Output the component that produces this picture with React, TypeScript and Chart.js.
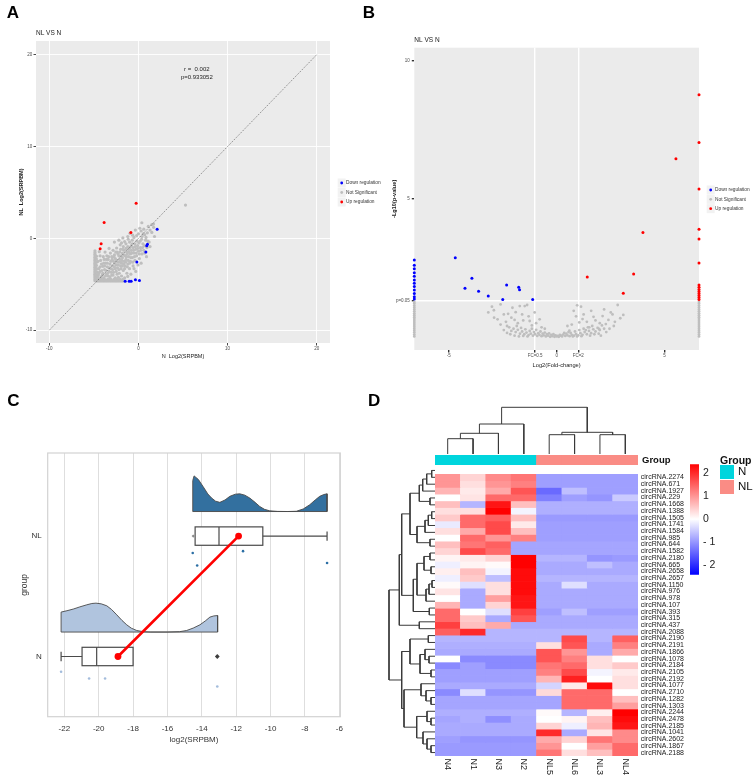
import React, { useEffect, useRef } from 'react';
import { Chart, registerables } from 'chart.js';

Chart.register(...registerables);
const FONT = "'Liberation Sans', Arial, Helvetica, sans-serif";
Chart.defaults.font.family = FONT;

const toXY = (arr: number[][]) => arr.map(([x, y]) => ({ x, y }));

// ================= Panel A : scatter NL vs N =================
const aTicks = [-10, 0, 10, 20];
const aDiagonal = [[-10, -10], [20, 20]];
const aCorrText = ['r =  0.002', 'p=0.933052'];
const aCorrX = 6.55;
const aCorrY = [18.46, 17.56];
const aDown = [[2.1, 1.0], [1.01, -0.65], [0.93, -0.8], [0.83, -1.49], [-0.18, -2.58], [-1.49, -4.66], [-1.04, -4.66], [-0.82, -4.66], [-0.34, -4.51], [0.11, -4.58]];
const aUp = [[-0.26, 3.82], [-3.85, 1.74], [-0.85, 0.65], [-4.19, -0.59], [-4.3, -1.13]];
const aNotSig = [
  [-4.88, -4.62], [-4.88, -4.47], [-4.88, -4.33], [-4.88, -4.18], [-4.88, -4.04], [-4.88, -3.9], [-4.88, -3.75], [-4.88, -3.6], [-4.88, -3.44], [-4.88, -3.3], [-4.88, -3.15], [-4.88, -3.0], [-4.88, -2.86], [-4.88, -2.7], [-4.88, -2.55], [-4.88, -2.38], [-4.88, -2.22], [-4.88, -2.06], [-4.88, -1.9], [-4.88, -1.72], [-4.88, -1.55], [-4.88, -1.35],
  [-4.72, -4.55], [-4.72, -4.25], [-4.7, -3.95], [-4.72, -3.62], [-4.7, -3.3], [-4.72, -2.95], [-4.7, -2.6], [-4.72, -2.25], [-4.7, -1.95],
  [-4.72, -4.64], [-4.56, -4.64], [-4.4, -4.64], [-4.24, -4.64], [-4.08, -4.64], [-3.92, -4.64], [-3.76, -4.64], [-3.6, -4.64], [-3.44, -4.64], [-3.28, -4.64], [-3.12, -4.64], [-2.96, -4.64], [-2.8, -4.64], [-2.64, -4.64], [-2.48, -4.64], [-2.32, -4.64], [-2.16, -4.64], [-2.0, -4.64], [-1.84, -4.64], [-1.68, -4.64],
  [-4.5, -4.46], [-4.15, -4.47], [-3.8, -4.46], [-3.45, -4.47], [-3.1, -4.46], [-2.75, -4.47], [-2.4, -4.46], [-2.05, -4.47], [-1.75, -4.46],
  [-4.5, -4.0], [-4.45, -3.3], [-4.3, -3.6], [-4.2, -4.2], [-4.15, -2.8], [-4.0, -3.05], [-4.0, -3.8], [-3.9, -4.3], [-3.85, -2.3], [-3.8, -3.4], [-3.7, -2.7], [-3.6, -3.9], [-3.55, -1.9], [-3.5, -3.1], [-3.4, -2.3], [-3.4, -4.1], [-3.3, -3.6], [-3.2, -2.8], [-3.15, -1.6], [-3.1, -3.3], [-3.0, -2.0], [-3.0, -4.0], [-2.9, -3.0], [-2.85, -1.3], [-2.8, -2.5], [-2.8, -3.7], [-2.7, -1.8], [-2.6, -3.3], [-2.6, -2.2], [-2.5, -2.9], [-2.45, -1.05], [-2.4, -1.5], [-2.4, -3.9], [-2.3, -2.6], [-2.2, -3.4], [-2.2, -1.9], [-2.1, -2.3], [-2.05, -0.7], [-2.0, -1.2], [-2.0, -3.0], [-1.9, -2.7], [-1.9, -4.1], [-1.8, -1.6], [-1.8, -2.1], [-1.7, -3.5], [-1.7, -0.9], [-1.6, -2.5], [-1.6, -1.3], [-1.55, -0.35], [-1.5, -3.0], [-1.5, -1.9], [-1.4, -0.6], [-1.4, -2.3], [-1.3, -3.8], [-1.3, -1.5], [-1.2, -2.8], [-1.2, -0.9], [-1.15, -0.1], [-1.1, -2.0], [-1.1, -1.2], [-1.0, -0.4], [-1.0, -3.3], [-0.9, -1.7], [-0.9, -2.5], [-0.8, -0.8], [-0.8, -1.3], [-0.7, -2.1], [-0.7, -0.2], [-0.65, 0.35], [-0.6, -3.0], [-0.6, -1.0], [-0.5, -1.6], [-0.5, 0.1], [-0.4, -2.4], [-0.4, -0.6], [-0.3, -1.2], [-0.3, -3.6], [-0.2, 0.3], [-0.2, -1.9], [-0.1, -0.8], [0.0, -1.4], [0.0, 0.5], [0.1, -2.2], [0.2, -0.3], [0.2, -1.0], [0.3, 0.8], [0.38, 1.7], [0.4, -1.7], [0.4, 0.2], [0.5, -0.6], [0.6, 1.0], [0.6, -1.3], [0.7, 0.4], [0.8, -0.2], [0.9, -2.0], [1.0, 0.6], [1.1, 1.3], [1.2, -0.4], [1.3, 0.9], [1.5, 0.65], [1.5, 1.5], [1.69, 1.56], [1.7, 1.2], [1.8, 0.2],
  [-1.2, 0.2], [-1.9, -0.5], [-3.75, -1.5], [-4.3, -1.9], [-4.55, -2.5], [-4.4, -1.45], [-3.3, -1.1], [-2.7, -0.4], [-2.2, -0.2], [-1.75, 0.05], [-0.95, 0.55], [-0.35, 0.9], [0.15, 1.1], [-4.6, -3.7], [-4.35, -4.4], [-3.95, -4.5], [-3.25, -4.45], [-2.6, -4.3], [-2.25, -4.25], [-1.55, -4.3], [-1.2, -4.15], [-0.85, -3.9], [-0.5, -3.3], [0.3, -2.7], [0.7, -1.6], [1.3, -0.9], [0.95, -1.0], [-0.05, -2.9],
  [-4.6, -4.2], [-4.45, -3.8], [-4.3, -3.1], [-4.25, -2.4], [-4.1, -3.5], [-4.05, -4.0], [-3.95, -2.0], [-3.9, -2.7], [-3.8, -3.0], [-3.7, -4.1], [-3.65, -3.5], [-3.6, -2.3], [-3.5, -2.7], [-3.45, -3.8], [-3.35, -2.0], [-3.3, -3.2], [-3.2, -4.2], [-3.1, -2.5], [-3.05, -3.7], [-2.95, -2.3], [-2.9, -3.4], [-2.85, -4.0], [-2.75, -2.0], [-2.7, -3.1], [-2.65, -2.7], [-2.55, -1.5], [-2.5, -3.6], [-2.45, -2.4], [-2.35, -3.2], [-2.3, -1.7], [-2.25, -2.9], [-2.15, -3.8], [-2.1, -1.5], [-2.05, -2.6], [-1.95, -3.3], [-1.95, -1.9], [-1.85, -2.4], [-1.8, -3.0], [-1.75, -1.2], [-1.65, -2.8], [-1.6, -1.8], [-1.55, -3.3], [-1.45, -2.6], [-1.4, -1.1], [-1.35, -2.0], [-1.25, -3.1], [-1.25, -1.7], [-1.15, -2.4], [-1.05, -1.5], [-1.0, -2.7], [-0.95, -1.0], [-0.85, -2.1], [-0.75, -1.6], [-0.7, -0.6], [-0.65, -2.6], [-0.55, -1.3], [-0.45, -2.0], [-0.35, -0.9], [-0.25, -1.6], [-0.15, -0.3], [-0.1, -1.1], [0.05, -0.5], [0.1, -1.7], [0.25, -1.3], [0.35, -0.1], [0.45, -1.0], [0.55, 0.5], [0.65, -0.8], [0.85, 0.1], [1.05, -0.3],
  [5.28, 3.63],
];

// ================= Panel B : volcano =================
const bXTicks = [-5, -1, 0, 1, 5];
const bXTickLabels = ['-5', 'FC=0.5', '0', 'FC=2', '5'];
const bYTicks = [1.301, 5, 10];
const bYTickLabels = ['p=0.05', '5', '10'];
const bEdgeX = 6.6;
const bDown = [[-4.7, 2.87], [-3.93, 2.13], [-4.25, 1.77], [-3.62, 1.66], [-3.17, 1.49], [-2.5, 1.36], [-2.32, 1.88], [-1.76, 1.8], [-1.72, 1.71], [-1.11, 1.36]];
const bDownEdgeY = [2.79, 2.6, 2.47, 2.33, 2.2, 2.07, 1.95, 1.83, 1.7, 1.58, 1.46, 1.38];
const bUp = [[5.53, 6.46], [4.0, 3.79], [3.57, 2.28], [1.42, 2.17], [3.09, 1.59]];
const bUpEdgeY = [8.78, 7.05, 5.36, 3.9, 3.55, 2.68, 1.88, 1.8, 1.72, 1.65, 1.58, 1.5, 1.43, 1.36];
const bNotSigEdgeY = [0.02, 0.09, 0.16, 0.23, 0.3, 0.37, 0.44, 0.51, 0.58, 0.65, 0.72, 0.79, 0.86, 0.93, 1.0, 1.07, 1.14, 1.21, 1.27];
const bNotSig = [
  [-2.2, 0.35], [-2.1, 0.22], [-2.0, 0.3], [-1.9, 0.18], [-1.85, 0.4], [-1.8, 0.26], [-1.7, 0.12], [-1.65, 0.33], [-1.6, 0.2], [-1.5, 0.1], [-1.45, 0.28], [-1.4, 0.16], [-1.3, 0.07], [-1.25, 0.22], [-1.2, 0.12], [-1.1, 0.05], [-1.05, 0.18], [-1.0, 0.1], [-0.95, 0.26], [-0.9, 0.04], [-0.85, 0.14], [-0.8, 0.08], [-0.7, 0.03], [-0.65, 0.12], [-0.6, 0.06], [-0.5, 0.02], [-0.45, 0.1], [-0.4, 0.05], [-0.3, 0.01], [-0.25, 0.08], [-0.2, 0.03], [-0.1, 0.01], [-0.05, 0.06], [0.0, 0.02], [0.05, 0.04], [0.1, 0.01], [0.2, 0.05], [0.25, 0.02], [0.3, 0.09], [0.4, 0.04], [0.45, 0.12], [0.5, 0.06], [0.6, 0.03], [0.65, 0.15], [0.7, 0.08], [0.8, 0.05], [0.85, 0.2], [0.9, 0.1], [1.0, 0.06], [1.05, 0.25], [1.1, 0.14], [1.2, 0.08], [1.25, 0.3], [1.3, 0.18], [1.4, 0.1], [1.45, 0.35], [1.5, 0.22], [1.6, 0.14], [1.65, 0.4], [1.7, 0.28], [1.8, 0.2], [1.9, 0.33], [2.0, 0.25], [2.1, 0.42], [2.2, 0.3],
  [-2.15, 0.1], [-1.95, 0.05], [-1.75, 0.02], [-1.55, 0.04], [-1.35, 0.02], [-1.15, 0.3], [-0.75, 0.2], [-0.55, 0.16], [-0.35, 0.13], [-0.15, 0.1], [0.15, 0.08], [0.35, 0.15], [0.55, 0.18], [0.75, 0.02], [0.95, 0.02], [1.15, 0.03], [1.35, 0.25], [1.55, 0.05], [1.75, 0.1], [1.95, 0.12], [2.05, 0.05], [-2.3, 0.15], [2.3, 0.18], [-2.45, 0.25], [2.45, 0.3],
  [-3.17, 0.89], [-2.91, 0.97], [-2.74, 0.64], [-2.45, 0.82], [-2.25, 0.84], [-2.05, 1.06], [-1.71, 1.12], [-1.48, 1.12], [-1.37, 1.16], [-1.6, 0.82], [-1.25, 0.58], [-1.02, 0.89], [-0.79, 0.64], [-2.6, 0.45], [-2.35, 0.55], [-1.95, 0.62], [-1.8, 0.5], [-1.55, 0.6], [-1.15, 0.42], [-0.95, 0.5], [-0.7, 0.35], [-0.55, 0.3], [-2.9, 0.7], [-3.0, 1.1], [-2.6, 1.18], [-2.3, 0.4], [-2.1, 0.7], [-1.3, 0.75], [-1.9, 0.9],
  [0.79, 0.95], [1.13, 1.1], [1.25, 0.82], [1.71, 0.73], [2.13, 0.76], [2.51, 0.89], [2.59, 0.82], [2.83, 1.16], [3.09, 0.8], [2.28, 0.47], [1.97, 0.29], [1.51, 0.35], [1.05, 0.53], [0.59, 0.23], [0.9, 0.75], [1.4, 0.55], [1.8, 0.6], [2.4, 0.62], [2.7, 0.55], [2.95, 0.68], [0.5, 0.4], [0.7, 0.45], [1.2, 0.65], [2.0, 0.5], [1.6, 0.95], [2.2, 1.0], [0.95, 1.15], [2.65, 0.4],
];

const legendLabels = ['Down regulation', 'Not Significant', 'Up regulation'];
const legendColors = ['#0000ff', '#bebebe', '#ff0000'];

// ================= Panel C : raincloud =================
const cTicks = [-22, -20, -18, -16, -14, -12, -10, -8, -6];
const cGroups = ['N', 'NL'];
const boxQ1 = [-20.97, -14.39];
const boxMedian = [-20.12, -13.0];
const boxQ3 = [-18.0, -10.45];
const whiskerLow = [-22.19, -14.39];
const whiskerHigh = [-18.0, -6.71];
const groupMeans = [-18.88, -11.86];
const outliersN = [-13.1];
const outliersNL = [-14.5];
const stripN = [[-22.19, -0.127], [-20.56, -0.183], [-19.63, -0.183], [-13.1, -0.249]];
const stripNL = [[-14.53, 0.859], [-14.27, 0.756], [-11.6, 0.875], [-6.71, 0.776]];
const cloudBaseN = 0.203;
const cloudN = [[-22.19, 0.203], [-22.19, 0.369], [-21.85, 0.38], [-21.48, 0.394], [-21.1, 0.412], [-20.7, 0.429], [-20.4, 0.44], [-20.16, 0.443], [-19.85, 0.437], [-19.53, 0.421], [-19.25, 0.39], [-18.95, 0.346], [-18.65, 0.3], [-18.37, 0.263], [-18.1, 0.235], [-17.79, 0.216], [-17.4, 0.206], [-17.0, 0.203], [-16.0, 0.203], [-15.3, 0.206], [-14.88, 0.216], [-14.5, 0.236], [-14.11, 0.263], [-13.8, 0.295], [-13.53, 0.327], [-13.3, 0.337], [-13.08, 0.34], [-13.08, 0.203]];
const cloudBaseNL = 1.204;
const cloudNL = [[-14.53, 1.204], [-14.53, 1.46], [-14.45, 1.5], [-14.2, 1.47], [-13.92, 1.41], [-13.65, 1.35], [-13.43, 1.316], [-13.2, 1.29], [-12.95, 1.28], [-12.65, 1.3], [-12.37, 1.33], [-12.05, 1.348], [-11.79, 1.351], [-11.5, 1.34], [-11.21, 1.316], [-10.9, 1.28], [-10.63, 1.246], [-10.35, 1.222], [-10.05, 1.21], [-9.6, 1.205], [-9.0, 1.204], [-8.5, 1.206], [-8.1, 1.225], [-7.72, 1.26], [-7.4, 1.3], [-7.14, 1.33], [-6.9, 1.345], [-6.71, 1.351], [-6.71, 1.204]];

// ================= Panel D : heatmap =================
const colNames = ['N4', 'N1', 'N3', 'N2', 'NL5', 'NL6', 'NL3', 'NL4'];
const colGroups = ['N', 'N', 'N', 'N', 'NL', 'NL', 'NL', 'NL'];
const groupColors: Record<string, string> = { N: '#00d5dd', NL: '#fa8c85' };
const rowNames = ['circRNA.2274', 'circRNA.671', 'circRNA.1927', 'circRNA.229', 'circRNA.1668', 'circRNA.1388', 'circRNA.1505', 'circRNA.1741', 'circRNA.1584', 'circRNA.985', 'circRNA.644', 'circRNA.1582', 'circRNA.2180', 'circRNA.665', 'circRNA.2658', 'circRNA.2657', 'circRNA.1150', 'circRNA.976', 'circRNA.978', 'circRNA.107', 'circRNA.393', 'circRNA.315', 'circRNA.437', 'circRNA.2088', 'circRNA.2190', 'circRNA.2191', 'circRNA.1866', 'circRNA.1078', 'circRNA.2184', 'circRNA.2105', 'circRNA.2192', 'circRNA.1077', 'circRNA.2710', 'circRNA.1282', 'circRNA.1303', 'circRNA.2244', 'circRNA.2478', 'circRNA.2185', 'circRNA.1041', 'circRNA.2602', 'circRNA.1867', 'circRNA.2188'];
const heatValues = [
  [1.0, 0.4, 1.1, 1.3, -0.9, -0.9, -0.9, -0.9],
  [1.0, 0.3, 1.0, 1.2, -0.9, -0.9, -0.9, -0.9],
  [0.7, 0.2, 0.8, 1.6, -1.4, -0.6, -0.9, -0.9],
  [0.0, 0.25, 1.4, 1.4, -1.2, -0.9, -1.0, -0.5],
  [0.6, -0.7, 2.2, 0.6, -0.75, -0.75, -0.75, -0.75],
  [0.3, 0.3, 2.4, -0.1, -0.75, -0.75, -0.75, -0.75],
  [0.5, 1.4, 1.5, 0.6, -0.95, -0.95, -0.95, -0.95],
  [-0.2, 1.4, 1.7, 0.2, -0.9, -0.9, -0.9, -0.9],
  [0.3, 0.8, 1.7, 0.6, -0.9, -0.9, -0.9, -0.9],
  [0.0, 1.4, 1.0, 1.2, -0.9, -0.9, -0.9, -0.9],
  [0.6, 1.3, 1.5, -0.85, -0.85, -0.85, -0.85, -0.85],
  [0.4, 1.7, 1.4, -0.85, -0.85, -0.85, -0.85, -0.85],
  [0.1, 0.2, 0.4, 2.4, -0.7, -0.7, -1.0, -0.95],
  [-0.15, 0.1, 0.05, 2.4, -0.8, -0.8, -0.6, -0.8],
  [0.15, 0.6, -0.1, 2.3, -0.8, -0.8, -0.8, -0.8],
  [-0.15, 0.5, -0.6, 2.3, -0.7, -0.7, -0.7, -0.7],
  [0.05, -0.3, 0.3, 2.3, -0.8, -0.3, -0.8, -0.8],
  [0.25, -0.8, 0.3, 2.3, -0.8, -0.8, -0.8, -0.8],
  [0.0, -0.8, 0.9, 2.2, -0.8, -0.8, -0.8, -0.8],
  [0.7, -0.8, 0.4, 2.2, -0.8, -0.8, -0.8, -0.8],
  [1.4, 0.0, -0.3, 1.8, -0.9, -0.6, -0.9, -0.9],
  [1.4, 0.5, -0.8, 1.6, -0.8, -0.8, -0.8, -0.8],
  [1.8, 0.6, 0.8, -0.8, -0.8, -0.8, -0.8, -0.8],
  [1.5, 2.0, -0.7, -0.7, -0.7, -0.7, -0.7, -0.7],
  [-0.7, -0.7, -0.7, -0.7, -0.7, 1.7, -0.7, 1.5],
  [-0.75, -0.75, -0.75, -0.75, 0.3, 1.6, -0.8, 1.2],
  [-0.8, -0.8, -0.8, -0.8, 1.6, 1.0, -0.8, 0.8],
  [0.0, -1.1, -1.1, -1.1, 1.6, 1.2, 0.3, 0.0],
  [-1.1, -0.9, -1.1, -1.1, 1.3, 1.4, 0.3, 0.5],
  [-0.9, -0.9, -0.9, -0.9, 1.2, 1.7, -0.1, 0.2],
  [-0.9, -0.9, -0.9, -0.9, 0.7, 2.1, 0.0, 0.3],
  [-0.8, -0.8, -0.8, -0.8, -0.4, 0.2, 2.3, 0.3],
  [-1.1, -0.3, -1.0, -1.0, 0.35, 1.4, 1.4, 0.0],
  [-0.85, -0.85, -0.85, -0.85, -0.85, 1.4, 1.4, 0.6],
  [-0.85, -0.85, -0.85, -0.85, -0.85, 1.4, 1.4, 0.9],
  [-0.75, -0.75, -0.75, -0.75, 0.05, -0.7, 0.15, 2.4],
  [-0.85, -0.75, -1.05, -0.8, 0.0, 0.1, 0.6, 2.3],
  [-0.8, -0.8, -0.8, -0.8, 0.4, -0.15, 0.7, 2.2],
  [-0.8, -0.8, -0.8, -0.8, 2.0, -0.8, 0.25, 1.1],
  [-0.9, -1.0, -1.0, -1.0, 0.8, 0.4, 1.3, 1.1],
  [-0.95, -0.95, -0.95, -0.95, 1.0, 0.0, 0.9, 1.4],
  [-0.95, -0.95, -0.95, -0.95, 1.3, 0.3, 0.6, 1.4],
];
const heatLimit = 2.4;
const cbMin = -2.4;
const cbMax = 2.37;
const cbTicks = [-2, -1, 0, 1, 2];
// hclust-style merges: negative = leaf (1-based, in display order), positive = earlier merge
const colMerge = [[-1, -2], [1, -3], [2, -4], [-5, -6], [-7, -8], [4, 5], [3, 6]];
const colHeights = [15.3, 20.7, 30, 19.3, 19.3, 21.7, 46.7];
const rowMerge = [
  [-1, -2], [1, -3], [2, -4], [-5, -6], [3, 4], [-7, -8], [6, -9], [7, -10], [-11, -12], [8, 9], [5, 10],
  [-13, -14], [-15, -16], [12, 13], [-17, -18], [15, -19], [16, -20], [14, 17], [-21, -22], [18, 19], [11, 20], [-23, -24], [21, 22],
  [-25, -26], [-28, -29], [-27, 25], [-30, -31], [26, 27], [24, 28], [-34, -35], [-33, 30], [-32, 31], [-37, -38], [-36, 33], [-41, -42], [-40, 35], [-39, 36], [34, 37], [32, 38], [29, 39], [23, 40],
];
const rowHeights = [3.3, 8.3, 12.3, 5, 15.7, 3.3, 6.7, 10, 5, 18, 25, 5, 4, 11, 3, 6, 9, 18, 5.7, 21.7, 33.3, 15.7, 35.7, 6.7, 6, 10, 4, 15, 25, 4, 9, 14, 4, 8, 4, 8, 12, 18.3, 31, 33.3, 46];

function valueToColor(v: number) {
  const t = Math.max(-1, Math.min(1, v / heatLimit));
  if (t >= 0) {
    const c = Math.round(255 * (1 - t));
    return `rgb(255,${c},${c})`;
  }
  const c = Math.round(255 * (1 + t));
  return `rgb(${c},${c},255)`;
}

function dendroSegments(merge: number[][], heights: number[]) {
  const pos: number[] = [];
  const hts: number[] = [];
  const segs: { p: number; h: number }[][] = [];
  const info = (id: number) => (id < 0 ? { p: -id - 1, h: 0 } : { p: pos[id - 1], h: hts[id - 1] });
  merge.forEach(([a, b], i) => {
    const A = info(a);
    const B = info(b);
    const h = heights[i];
    pos[i] = (A.p + B.p) / 2;
    hts[i] = h;
    segs.push([{ p: A.p, h: A.h }, { p: A.p, h }, { p: B.p, h }, { p: B.p, h: B.h }]);
  });
  return segs;
}

// ================= helpers =================
function drawText(ctx: CanvasRenderingContext2D, text: string, x: number, y: number, size: number, opts: any = {}) {
  ctx.save();
  ctx.font = `${opts.weight || 'normal'} ${size}px ${FONT}`;
  ctx.fillStyle = opts.color || '#222';
  ctx.textAlign = opts.align || 'left';
  ctx.textBaseline = opts.baseline || 'middle';
  ctx.fillText(text, x, y);
  ctx.restore();
}

function drawLegend(ctx: CanvasRenderingContext2D, x: number, y0: number, dy: number, size: number) {
  legendLabels.forEach((lab, i) => {
    const y = y0 + i * dy;
    ctx.save();
    ctx.fillStyle = '#f2f2f2';
    ctx.fillRect(x - 4, y - 4.5, 8, 9);
    ctx.fillStyle = legendColors[i];
    ctx.beginPath();
    ctx.arc(x, y, 1.4, 0, Math.PI * 2);
    ctx.fill();
    ctx.restore();
    drawText(ctx, lab, x + 4.3, y, size, { color: '#333' });
  });
}

const panelBg = (color: string) => ({
  id: 'panelBg',
  beforeDraw(c: any) {
    const { ctx, chartArea: a } = c;
    ctx.save();
    ctx.fillStyle = color;
    ctx.fillRect(a.left, a.top, a.right - a.left, a.bottom - a.top);
    ctx.restore();
  },
});

const baseOpts = {
  responsive: false,
  animation: false as const,
  events: [] as any[],
  plugins: { legend: { display: false }, tooltip: { enabled: false } },
};

function ChartBox({ left, top, width, height, make }: { left: number; top: number; width: number; height: number; make: () => any }) {
  const ref = useRef<HTMLCanvasElement>(null);
  useEffect(() => {
    const chart = new Chart(ref.current as HTMLCanvasElement, make());
    return () => chart.destroy();
  }, []);
  return <canvas ref={ref} width={width} height={height} style={{ position: 'absolute', left, top, width, height }} />;
}

// ================= configs =================
const makeA = () => ({
  type: 'scatter',
  data: {
    datasets: [
      { type: 'line', data: toXY(aDiagonal), borderColor: '#555', borderWidth: 0.7, borderDash: [1.2, 1.3], pointRadius: 0, fill: false },
      { data: toXY(aDown), backgroundColor: '#0000ff', pointRadius: 1.5, borderWidth: 0 },
      { data: toXY(aUp), backgroundColor: '#ff0000', pointRadius: 1.5, borderWidth: 0 },
      { data: toXY(aNotSig), backgroundColor: '#bebebe', pointRadius: 1.6, borderWidth: 0 },
    ],
  },
  options: {
    ...baseOpts,
    layout: { padding: { left: 0, top: 41, right: 62, bottom: 0 } },
    scales: {
      x: {
        type: 'linear', min: -11.5, max: 21.5,
        afterBuildTicks: (s: any) => { s.ticks = aTicks.map((v) => ({ value: v })); },
        afterFit: (s: any) => { s.height = 37; },
        ticks: { font: { size: 4.5 }, color: '#4d4d4d', padding: 0.1, maxRotation: 0, autoSkip: false },
        grid: { color: '#ffffff', lineWidth: 0.9, tickColor: '#333', tickLength: 2.5 },
        border: { display: false },
        title: { display: true, text: 'N  Log2(SRPBM)', font: { size: 5.5 }, color: '#222', padding: { top: 0, bottom: 20.7 } },
      },
      y: {
        type: 'linear', min: -11.4, max: 21.5,
        afterBuildTicks: (s: any) => { s.ticks = aTicks.map((v) => ({ value: v })); },
        afterFit: (s: any) => { s.width = 36; },
        ticks: { font: { size: 4.5 }, color: '#4d4d4d', padding: 1.2, autoSkip: false },
        grid: { color: '#ffffff', lineWidth: 0.9, tickColor: '#333', tickLength: 2.5 },
        border: { display: false },
        title: { display: true, text: 'NL  Log2(SRPBM)', font: { size: 5.5, weight: 'bold' }, color: '#222', padding: { top: 18, bottom: 0 } },
      },
    },
  },
  plugins: [
    panelBg('#ebebeb'),
    {
      id: 'aDeco',
      afterDraw(c: any) {
        const { ctx, scales } = c;
        drawText(ctx, 'NL VS N', 36, 33.3, 6.5, { color: '#222' });
        aCorrText.forEach((t, i) => drawText(ctx, t, scales.x.getPixelForValue(aCorrX), scales.y.getPixelForValue(aCorrY[i]), 6, { align: 'center', color: '#222' }));
        drawLegend(ctx, 341.7, 183, 9.5, 4.8);
      },
    },
  ],
});

const makeB = () => ({
  type: 'scatter',
  data: {
    datasets: [
      { data: toXY(bDown.concat(bDownEdgeY.map((y) => [-bEdgeX, y]))), backgroundColor: '#0000ff', pointRadius: 1.5, borderWidth: 0, clip: false },
      { data: toXY(bUp.concat(bUpEdgeY.map((y) => [bEdgeX, y]))), backgroundColor: '#ff0000', pointRadius: 1.5, borderWidth: 0, clip: false },
      { data: toXY(bNotSig.concat(bNotSigEdgeY.map((y) => [-bEdgeX, y]), bNotSigEdgeY.map((y) => [bEdgeX, y]))), backgroundColor: '#bebebe', pointRadius: 1.4, borderWidth: 0, clip: false },
    ],
  },
  options: {
    ...baseOpts,
    layout: { padding: { left: 0, top: 47.7, right: 54, bottom: 0 } },
    scales: {
      x: {
        type: 'linear', min: -6.6, max: 6.6,
        afterBuildTicks: (s: any) => { s.ticks = bXTicks.map((v) => ({ value: v })); },
        afterFit: (s: any) => { s.height = 30; },
        ticks: { font: { size: 4.5 }, color: '#4d4d4d', padding: 0.5, maxRotation: 0, autoSkip: false, callback: (_v: any, i: number) => bXTickLabels[i] },
        grid: {
          color: (ctx: any) => (ctx.tick && Math.abs(ctx.tick.value) === 1 ? '#ffffff' : 'rgba(0,0,0,0)'),
          lineWidth: 1.4, tickColor: '#333', tickLength: 2.5,
        },
        border: { display: false },
        title: { display: true, text: 'Log2(Fold-change)', font: { size: 5.7 }, color: '#222', padding: { top: 0, bottom: 10.9 } },
      },
      y: {
        type: 'linear', min: -0.47, max: 10.48,
        afterBuildTicks: (s: any) => { s.ticks = bYTicks.map((v) => ({ value: v })); },
        afterFit: (s: any) => { s.width = 39.3; },
        ticks: { font: { size: 4.5 }, color: '#4d4d4d', padding: 2, autoSkip: false, callback: (_v: any, i: number) => bYTickLabels[i] },
        grid: {
          color: (ctx: any) => (ctx.tick && ctx.tick.value === bYTicks[0] ? '#ffffff' : 'rgba(0,0,0,0)'),
          lineWidth: 1.4, tickColor: '#333', tickLength: 2.5,
        },
        border: { display: false },
        title: { display: true, text: '-Lg10(p-value)', font: { size: 5.6, weight: 'bold' }, color: '#222', padding: { top: 15.6, bottom: 0 } },
      },
    },
  },
  plugins: [
    panelBg('#ebebeb'),
    {
      id: 'bDeco',
      afterDraw(c: any) {
        const { ctx } = c;
        drawText(ctx, 'NL VS N', 39.3, 40.3, 6.5, { color: '#222' });
        drawLegend(ctx, 335.7, 190, 9.35, 4.8);
      },
    },
  ],
});

const cloudDataset = (pts: number[][], base: number, color: string) => ({
  type: 'line', data: toXY(pts), borderColor: '#4a4a4a', borderWidth: 0.9, backgroundColor: color, fill: { value: base }, pointRadius: 0, tension: 0,
});
const cloudBaseline = (pts: number[][], base: number) => ({
  type: 'line', data: [{ x: pts[0][0], y: base }, { x: pts[pts.length - 1][0], y: base }], borderColor: '#4a4a4a', borderWidth: 0.9, pointRadius: 0, fill: false,
});

const makeC = () => ({
  type: 'scatter',
  data: {
    datasets: [
      { type: 'line', data: groupMeans.map((m, i) => ({ x: m, y: i })), borderColor: '#ff0000', borderWidth: 2.6, pointRadius: 3.4, pointBackgroundColor: '#ff0000', pointBorderWidth: 0, fill: false },
      { data: outliersN.map((v) => ({ x: v, y: 0 })), pointStyle: 'rectRot', pointRadius: 2.4, backgroundColor: '#3d3d3d', borderWidth: 0 },
      { data: outliersNL.map((v) => ({ x: v, y: 1 })), pointStyle: 'rectRot', pointRadius: 1.6, backgroundColor: '#8a8a8a', borderWidth: 0 },
      { data: toXY(stripNL), backgroundColor: '#2c6fa5', pointRadius: 1.3, borderWidth: 0 },
      { data: toXY(stripN), backgroundColor: '#a3bcdc', pointRadius: 1.3, borderWidth: 0 },
      cloudBaseline(cloudNL, cloudBaseNL),
      cloudBaseline(cloudN, cloudBaseN),
      cloudDataset(cloudNL, cloudBaseNL, '#33709f'),
      cloudDataset(cloudN, cloudBaseN, '#b0c4de'),
    ],
  },
  options: {
    ...baseOpts,
    layout: { padding: { left: 0, top: 73, right: 34.7, bottom: 0 } },
    scales: {
      x: {
        type: 'linear', min: -22.97, max: -5.94,
        afterBuildTicks: (s: any) => { s.ticks = cTicks.map((v) => ({ value: v })); },
        afterFit: (s: any) => { s.height = 64.3; },
        ticks: { font: { size: 8 }, color: '#333', padding: 6.8, maxRotation: 0, autoSkip: false },
        grid: { color: '#dedede', lineWidth: 1, drawTicks: false },
        border: { display: false },
        title: { display: true, text: 'log2(SRPBM)', font: { size: 8 }, color: '#333', padding: { top: 0, bottom: 36.2 } },
      },
      y: {
        type: 'linear', min: -0.5, max: 1.69,
        afterBuildTicks: (s: any) => { s.ticks = cGroups.map((_g, i) => ({ value: i })); },
        afterFit: (s: any) => { s.width = 47.7; },
        ticks: { font: { size: 8 }, color: '#333', padding: 6, callback: (v: any) => cGroups[v] },
        grid: { display: false, drawTicks: false },
        border: { display: false },
        title: { display: true, text: 'group', font: { size: 8.5 }, color: '#333', padding: { top: 19.9, bottom: 0 } },
      },
    },
  },
  plugins: [
    {
      id: 'cBoxes',
      beforeDatasetsDraw(c: any) {
        const { ctx, scales: { x, y }, chartArea: a } = c;
        ctx.save();
        ctx.strokeStyle = '#d2d2d2';
        ctx.lineWidth = 1.2;
        ctx.strokeRect(a.left, a.top, a.right - a.left, a.bottom - a.top);
        const hh = 9.2;
        const ch = 4.7;
        ctx.strokeStyle = '#4a4a4a';
        ctx.lineWidth = 1.2;
        cGroups.forEach((_g, i) => {
          const yc = y.getPixelForValue(i);
          const q1 = x.getPixelForValue(boxQ1[i]);
          const q3 = x.getPixelForValue(boxQ3[i]);
          const md = x.getPixelForValue(boxMedian[i]);
          const wl = x.getPixelForValue(whiskerLow[i]);
          const wh = x.getPixelForValue(whiskerHigh[i]);
          ctx.fillStyle = '#ffffff';
          ctx.fillRect(q1, yc - hh, q3 - q1, 2 * hh);
          ctx.strokeRect(q1, yc - hh, q3 - q1, 2 * hh);
          ctx.beginPath();
          ctx.moveTo(md, yc - hh); ctx.lineTo(md, yc + hh);
          if (wl < q1) { ctx.moveTo(wl, yc); ctx.lineTo(q1, yc); ctx.moveTo(wl, yc - ch); ctx.lineTo(wl, yc + ch); }
          if (wh > q3) { ctx.moveTo(q3, yc); ctx.lineTo(wh, yc); ctx.moveTo(wh, yc - ch); ctx.lineTo(wh, yc + ch); }
          ctx.stroke();
        });
        ctx.restore();
      },
    },
  ],
});

const lineSeg = (pts: { x: number; y: number }[]) => ({ data: pts, showLine: true, borderColor: '#3a3a3a', borderWidth: 1, pointRadius: 0, fill: false, tension: 0 });

const makeTopDendro = () => ({
  type: 'scatter',
  data: { datasets: dendroSegments(colMerge, colHeights).map((s) => lineSeg(s.map((q) => ({ x: q.p, y: q.h })))) },
  options: {
    ...baseOpts,
    scales: {
      x: { type: 'linear', min: -0.5, max: colNames.length - 0.5, display: false },
      y: { type: 'linear', min: 0, max: 54, display: false },
    },
  },
});

const makeLeftDendro = () => ({
  type: 'scatter',
  data: { datasets: dendroSegments(rowMerge, rowHeights).map((s) => lineSeg(s.map((q) => ({ x: q.h, y: q.p })))) },
  options: {
    ...baseOpts,
    scales: {
      x: { type: 'linear', min: 0, max: 50, reverse: true, display: false },
      y: { type: 'linear', min: -0.5, max: rowNames.length - 0.5, reverse: true, display: false },
    },
  },
});

const makeAnno = () => ({
  type: 'bar',
  data: { labels: colNames, datasets: [{ data: colNames.map(() => 1), backgroundColor: colGroups.map((g) => groupColors[g]), borderWidth: 0, barPercentage: 1, categoryPercentage: 1 }] },
  options: {
    ...baseOpts,
    scales: { x: { display: false }, y: { display: false, min: 0, max: 1 } },
  },
});

const makeHeat = () => ({
  type: 'bar',
  data: {
    labels: colNames,
    datasets: heatValues.map((row) => ({
      data: row.map(() => 1),
      backgroundColor: row.map(valueToColor),
      borderWidth: 0,
      barPercentage: 1,
      categoryPercentage: 1,
      stack: 'heat',
    })),
  },
  options: {
    ...baseOpts,
    layout: { padding: { left: 0, top: 0, right: 0, bottom: 25 } },
    scales: {
      x: { display: false, stacked: true },
      y: { display: false, stacked: true, min: 0, max: rowNames.length, reverse: true },
      rows: {
        type: 'category', axis: 'y', position: 'right', labels: rowNames, offset: true,
        afterFit: (s: any) => { s.width = 57; },
        grid: { display: false, drawTicks: false },
        border: { display: false },
        ticks: { font: { size: 7 }, color: '#1a1a1a', padding: 2.8, autoSkip: false },
      },
    },
  },
  plugins: [
    {
      id: 'colLabels',
      afterDraw(c: any) {
        const { ctx, scales: { x }, chartArea: a } = c;
        colNames.forEach((n, i) => {
          ctx.save();
          ctx.translate(x.getPixelForValue(i), a.bottom + 2.6);
          ctx.rotate(Math.PI / 2);
          ctx.font = `9px ${FONT}`;
          ctx.fillStyle = '#1a1a1a';
          ctx.textAlign = 'left';
          ctx.textBaseline = 'middle';
          ctx.fillText(n, 0, 0);
          ctx.restore();
        });
      },
    },
  ],
});

const makeColorbar = () => ({
  type: 'bar',
  data: {
    labels: [''],
    datasets: [{
      data: [[cbMin, cbMax]],
      borderWidth: 0, barPercentage: 1, categoryPercentage: 1,
      backgroundColor: (ctx: any) => {
        const ch = ctx.chart;
        if (!ch.chartArea) return '#ffffff';
        const ys = ch.scales.y;
        const g = ch.ctx.createLinearGradient(0, ys.getPixelForValue(cbMin), 0, ys.getPixelForValue(cbMax));
        [cbMin, 0, cbMax].forEach((v) => g.addColorStop((v - cbMin) / (cbMax - cbMin), valueToColor(v)));
        return g;
      },
    }],
  },
  options: {
    ...baseOpts,
    layout: { padding: { left: 0, top: 0, right: 0, bottom: 1 } },
    scales: {
      x: { display: false },
      y: {
        position: 'right', min: cbMin, max: cbMax,
        afterBuildTicks: (s: any) => { s.ticks = cbTicks.map((v) => ({ value: v })); },
        afterFit: (s: any) => { s.width = 21; },
        grid: { display: false, drawTicks: false },
        border: { display: false },
        ticks: { font: { size: 10.5 }, color: '#222', padding: 4, callback: (v: any) => (v < 0 ? '- ' + Math.abs(v) : String(v)) },
      },
    },
  },
});

const label = (text: string, left: number, top: number, size: number, weight = 'normal', extra: any = {}) => (
  <div style={{ position: 'absolute', left, top, fontFamily: FONT, fontSize: size, lineHeight: `${size}px`, fontWeight: weight as any, color: '#111', whiteSpace: 'nowrap', ...extra }}>{text}</div>
);

export default function App() {
  return (
    <div style={{ position: 'absolute', left: 0, top: 0, width: 753, height: 781, background: '#ffffff', overflow: 'hidden' }}>
      <ChartBox left={0} top={0} width={392} height={380} make={makeA} />
      <ChartBox left={375} top={0} width={378} height={380} make={makeB} />
      <ChartBox left={0} top={380} width={375} height={401} make={makeC} />
      <ChartBox left={435} top={400} width={203} height={54} make={makeTopDendro} />
      <ChartBox left={385} top={467} width={50} height={289} make={makeLeftDendro} />
      <ChartBox left={435} top={455} width={203} height={10} make={makeAnno} />
      <ChartBox left={435} top={467} width={260} height={314} make={makeHeat} />
      <ChartBox left={690} top={454} width={30} height={131} make={makeColorbar} />
      {label('A', 6.7, 3.9, 17, 'bold', { color: '#000' })}
      {label('B', 362.7, 3.9, 17, 'bold', { color: '#000' })}
      {label('C', 7.3, 392.3, 17, 'bold', { color: '#000' })}
      {label('D', 368, 392.3, 17, 'bold', { color: '#000' })}
      {label('Group', 642, 454.8, 9.5, 'bold')}
      {label('Group', 720, 454.6, 10.5, 'bold')}
      <div style={{ position: 'absolute', left: 720, top: 465, width: 14, height: 14, background: groupColors.N }} />
      <div style={{ position: 'absolute', left: 720, top: 479.5, width: 14, height: 14, background: groupColors.NL }} />
      {label('N', 738, 466.3, 11.5)}
      {label('NL', 738, 481, 11.5)}
    </div>
  );
}
